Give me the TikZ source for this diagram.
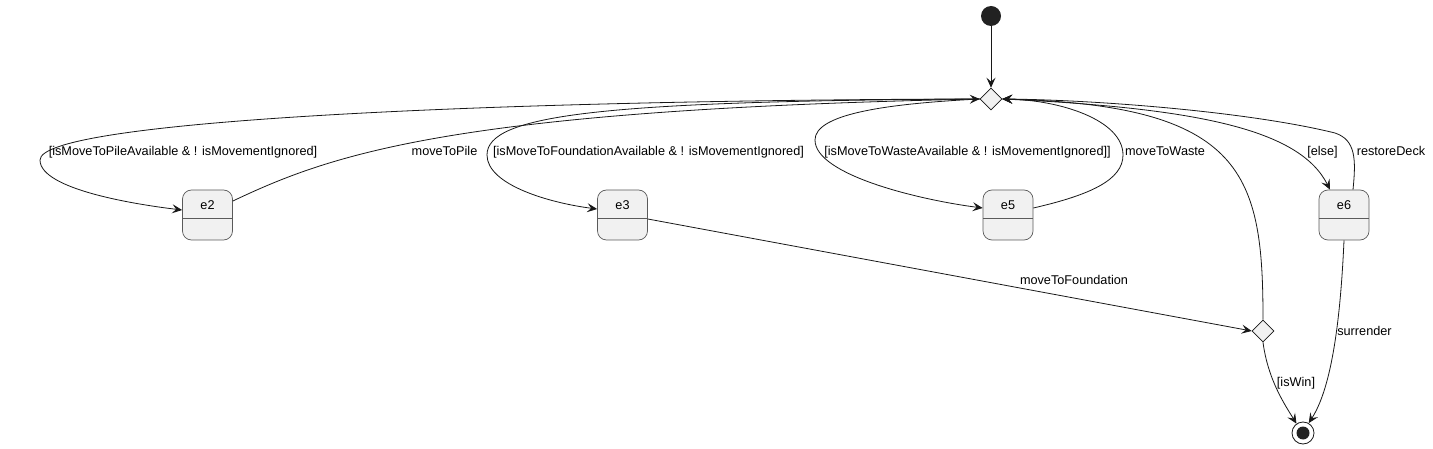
\documentclass[tikz,border=0pt]{standalone}
\usepackage{fontspec}
\setmainfont{Liberation Sans}
\usepackage{tikz}
\usetikzlibrary{arrows.meta,shapes.geometric}
\definecolor{linecol}{HTML}{181818}
\definecolor{boxline}{HTML}{5A5A5A}
\definecolor{boxfill}{HTML}{F1F1F1}
\definecolor{dotcol}{HTML}{222222}

\tikzset{
	edge/.style={draw=linecol, line width=0.8pt, -{Stealth[length=10pt,width=9pt,inset=4pt]}},
	lbl/.style={font=\fontsize{12.7pt}{14pt}\selectfont, inner sep=0pt, text height=9pt, text depth=2.6pt},
	state/.style={draw=boxline, fill=boxfill, line width=0.7pt, rounded corners=9pt,
		minimum width=50pt, minimum height=50pt, inner sep=0pt,
		font=\fontsize{12.7pt}{14pt}\selectfont, text height=8pt, text depth=18pt,
		path picture={\draw[boxline, line width=0.7pt] ([yshift=-3pt]path picture bounding box.west) -- ([yshift=-3pt]path picture bounding box.east);}},
	choice/.style={diamond, draw=linecol, fill=boxfill, line width=0.6pt, minimum size=22pt, inner sep=0pt},
}

\begin{document}
\begin{tikzpicture}[x=1pt,y=-1pt]
			\useasboundingbox (0,0) rectangle (1433,449);
			\node[circle, fill=dotcol, minimum size=20pt, inner sep=0pt] (start) at (991,16) {};
			\node[choice] (d1) at (991,99) {};
			\node[choice] (d2) at (1263,331) {};
			\node[state] (e2) at (207.5,215) {e2};
			\node[state] (e3) at (622.5,215) {e3};
			\node[state] (e5) at (1008,215) {e5};
			\node[state] (e6) at (1344,215) {e6};
			\node[circle, draw=linecol, line width=0.8pt, fill=white, minimum size=22pt, inner sep=0pt,
				path picture={\fill[dotcol] (path picture bounding box.center) circle (6.5pt);}] (final) at (1303,433) {};
			\draw[edge] (start) -- (d1);
			\draw[edge] (d1.west) .. controls (500,100) and (40,120) .. (40,160) .. controls (40,190) and (140,205) .. ([yshift=5pt]e2.west);
			\draw[edge] ([yshift=14pt]e2.east) .. controls (330,155) and (450,110) .. (d1.west);
			\draw[edge] (d1.west) .. controls (600,101) and (487,115) .. (487,155) .. controls (487,185) and (550,203) .. ([yshift=6pt]e3.west);
			\draw[edge] (d1.west) .. controls (880,104) and (815,115) .. (815,140) .. controls (815,175) and (920,200) .. ([yshift=7pt]e5.west);
			\draw[edge] ([yshift=7pt]e5.east) .. controls (1090,195) and (1123,180) .. (1123,155) .. controls (1123,120) and (1060,100) .. (d1.east);
			\draw[edge] (d1.east) .. controls (1200,108) and (1300,130) .. ([xshift=-14pt]e6.north);
			\draw[edge] ([xshift=9pt]e6.north) .. controls (1356,160) and (1356,140) .. (1335,133) .. controls (1250,112) and (1100,100) .. (d1.east);
			\draw[edge] ([yshift=-4pt]e3.east) -- (d2.west);
			\draw[edge] (d2.north) .. controls (1263,175) and (1245,105) .. (d1.east);
			\draw[edge] (d2.south) .. controls (1268,380) and (1285,405) .. (final.125);
			\draw[edge] (e6.south) .. controls (1340,330) and (1330,390) .. (final.60);
			\node[lbl] (g2) at (183,152) {[isMoveToPileAvailable \& ! isMovementIgnored]};
			\node[lbl] (a2) at (444.5,152) {moveToPile};
			\node[lbl] (g3) at (648.5,152) {[isMoveToFoundationAvailable \& ! isMovementIgnored]};
			\node[lbl] (g5) at (967.5,152) {[isMoveToWasteAvailable \& ! isMovementIgnored]]};
			\node[lbl] (a5) at (1165,152) {moveToWaste};
			\node[lbl] (g6) at (1322.5,152) {[else]};
			\node[lbl] (a6) at (1391,152) {restoreDeck};
			\node[lbl] (a3) at (1074,281) {moveToFoundation};
			\node[lbl] (gw) at (1296,383) {[isWin]};
			\node[lbl] (a7) at (1364.5,332) {surrender};
		\end{tikzpicture}
\end{document}
